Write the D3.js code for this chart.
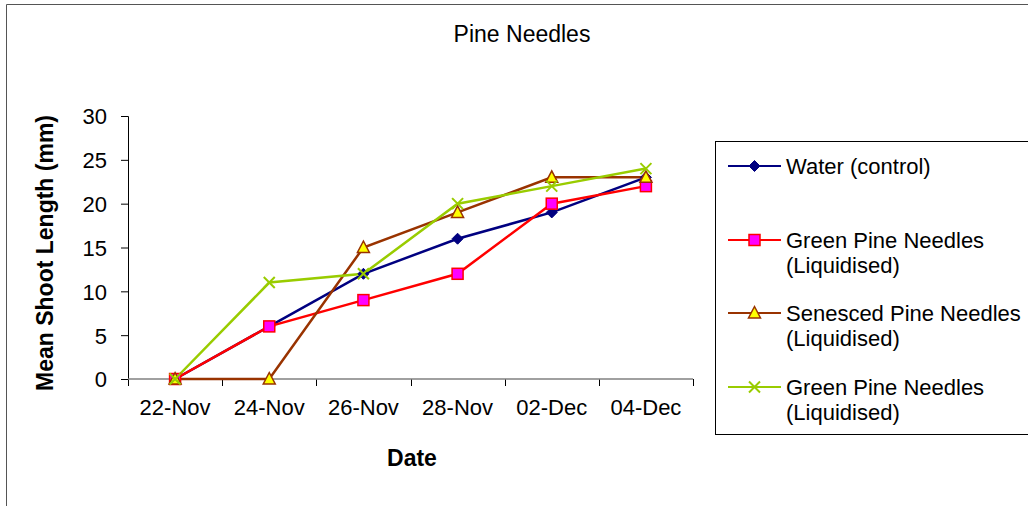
<!DOCTYPE html>
<html><head><meta charset="utf-8">
<script src="https://cdn.jsdelivr.net/npm/d3@7"></script>
<style>body{margin:0;background:#fff}svg{display:block;font-family:"Liberation Sans",Arial,sans-serif}</style>
</head><body>
<svg id="c" width="1028" height="506"></svg>
<script>
const categories = ["22-Nov","24-Nov","26-Nov","28-Nov","02-Dec","04-Dec"];
const water = [0, 6, 12, 16, 19, 23];
const greenLiq = [0, 6, 9, 12, 20, 22];
const senescedLiq = [0, 0, 15, 19, 23, 23];
const greenLiq2 = [0, 11, 12, 20, 22, 24];
const yTicks = [0, 5, 10, 15, 20, 25, 30];
const seriesNames = ["Water (control)", "Green Pine Needles (Liquidised)", "Senesced Pine Needles (Liquidised)", "Green Pine Needles (Liquidised)"];

const series = [
  {name: seriesNames[0], values: water, line: "#000080", fill: "#000080", stroke: "#000080", marker: "diamond"},
  {name: seriesNames[1], values: greenLiq, line: "#FF0000", fill: "#FF00FF", stroke: "#FF0000", marker: "square"},
  {name: seriesNames[2], values: senescedLiq, line: "#993300", fill: "#FFFF00", stroke: "#993300", marker: "triangle"},
  {name: seriesNames[3], values: greenLiq2, line: "#99CC00", fill: "none", stroke: "#99CC00", marker: "x"}
];

const FS = 22;
const svg = d3.select("#c");
// outer frame
svg.append("path").attr("d","M6.5,506 V4.5 H1028").attr("fill","none").attr("stroke","#555").attr("stroke-width",1);

const x = d3.scaleBand().domain(categories).range([128, 693]);
const y = d3.scaleLinear().domain([0, 30]).range([379, 116]);

// axes
const yAxis = d3.axisLeft(y).tickValues(yTicks).tickSize(7).tickPadding(14);
const gy = svg.append("g").attr("transform","translate(128,0)").call(yAxis);
gy.select(".domain").attr("stroke","#000").attr("stroke-width",1);
gy.selectAll(".tick line").attr("stroke","#000");
gy.selectAll("text").attr("font-size",FS).attr("fill","#000").attr("font-family","Liberation Sans, Arial, sans-serif").attr("dy","0.36em");

const gx = svg.append("g").attr("transform","translate(0,379)");
const bounds = categories.map(c => x(c)).concat([x(categories[categories.length-1]) + x.bandwidth()]);
gx.selectAll("line.t").data(bounds).enter().append("line")
  .attr("x1",d=>Math.round(d)+0.5).attr("x2",d=>Math.round(d)+0.5).attr("y1",0).attr("y2",7).attr("stroke","#000");
gx.append("line").attr("x1",128).attr("x2",693).attr("stroke","#808080").attr("stroke-width",1.5);
gx.selectAll("text").data(categories).enter().append("text")
  .attr("x",d=>x(d)+x.bandwidth()/2).attr("y",36).attr("text-anchor","middle")
  .attr("font-size",FS).text(d=>d);

// titles
svg.append("text").attr("x",522).attr("y",42).attr("text-anchor","middle").attr("font-size",23).text("Pine Needles");
svg.append("text").attr("x",412).attr("y",466).attr("text-anchor","middle").attr("font-size",23).attr("font-weight","bold").text("Date");
svg.append("text").attr("transform","translate(53,253) rotate(-90)").attr("text-anchor","middle").attr("font-size",23).attr("font-weight","bold").text("Mean Shoot Length (mm)");

const cx = c => x(c) + x.bandwidth()/2;
const line = d3.line().x((d,i)=>cx(categories[i])).y(d=>y(d));

function marker(g, type, s){
  if(type==="diamond") g.append("path").attr("d",`M0,-5.5 L5.5,0 L0,5.5 L-5.5,0Z`).attr("fill",s.fill).attr("stroke",s.stroke);
  else if(type==="square") g.append("rect").attr("x",-5.5).attr("y",-5.5).attr("width",11).attr("height",11).attr("fill",s.fill).attr("stroke",s.stroke).attr("stroke-width",1.5);
  else if(type==="triangle") g.append("path").attr("d",`M0,-6.5 L6,5 L-6,5Z`).attr("fill",s.fill).attr("stroke",s.stroke).attr("stroke-width",1.5);
  else if(type==="x") g.append("path").attr("d",`M-5.5,-5.5 L5.5,5.5 M-5.5,5.5 L5.5,-5.5`).attr("stroke",s.stroke).attr("stroke-width",2);
}

series.forEach(s=>{
  svg.append("path").datum(s.values).attr("d",line).attr("fill","none").attr("stroke",s.line).attr("stroke-width",2.5);
});
series.forEach(s=>{
  s.values.forEach((v,i)=>{
    const g = svg.append("g").attr("transform",`translate(${cx(categories[i])},${y(v)})`);
    marker(g, s.marker, s);
  });
});

// legend
const lg = svg.append("g");
lg.append("rect").attr("x",715.5).attr("y",141.5).attr("width",330).attr("height",293).attr("fill","#fff").attr("stroke","#000");
const entries = [
  {s: series[0], lines: ["Water (control)"], y: 166},
  {s: series[1], lines: ["Green Pine Needles", "(Liquidised)"], y: 240},
  {s: series[2], lines: ["Senesced Pine Needles", "(Liquidised)"], y: 313},
  {s: series[3], lines: ["Green Pine Needles", "(Liquidised)"], y: 387}
];
entries.forEach(e=>{
  lg.append("line").attr("x1",728).attr("x2",781).attr("y1",e.y).attr("y2",e.y).attr("stroke",e.s.line).attr("stroke-width",2);
  const g = lg.append("g").attr("transform",`translate(754.5,${e.y})`);
  marker(g, e.s.marker, e.s);
  e.lines.forEach((t,k)=>{
    lg.append("text").attr("x",786).attr("y",e.y+8+k*25).attr("font-size",FS).text(t);
  });
});
</script>
</body></html>
